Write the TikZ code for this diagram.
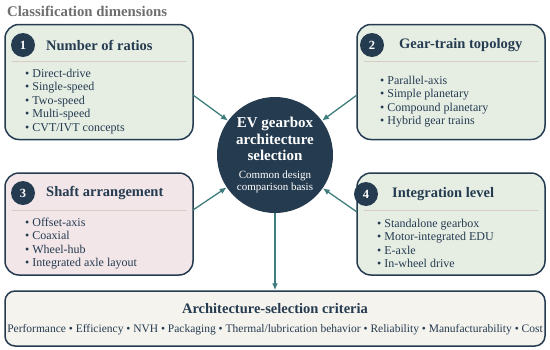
\documentclass[tikz,border=0pt]{standalone}
\usepackage{fontspec}
\setmainfont{Liberation Serif}
\usetikzlibrary{arrows.meta}
\definecolor{navy}{HTML}{253B50}
\definecolor{tealc}{HTML}{3E7D7C}
\definecolor{gfill}{HTML}{E6EEE4}
\definecolor{pfill}{HTML}{F2E6E8}
\definecolor{bfill}{HTML}{F5F3EE}
\definecolor{sepc}{HTML}{D9CCC4}
\definecolor{ttl}{HTML}{6E6E6E}
\tikzset{
  card/.style={draw=navy, line width=1.5pt, rounded corners=14pt, inner sep=0pt},
  numc/.style={circle, fill=navy, minimum size=24pt, inner sep=0pt, text=white, font=\fontsize{12.5}{12}\selectfont\bfseries},
  head/.style={anchor=west, text=navy, font=\fontsize{14.5}{14}\selectfont\bfseries, inner sep=0pt},
  items/.style={anchor=north west, text=navy, font=\fontsize{12}{13.6}\selectfont, align=left, inner sep=0pt},
  sepl/.style={draw=sepc, line width=1pt},
  arr/.style={draw=tealc, line width=1.3pt, -{Latex[length=7pt,width=6pt]}},
}
\begin{document}
\begin{tikzpicture}[x=1pt,y=-1pt]
\useasboundingbox (0,0) rectangle (550,349);
\node[anchor=west, text=ttl, font=\fontsize{14.8}{15}\selectfont\bfseries, inner sep=0pt] (title) at (7,11) {Classification dimensions};

% box 1
\node[card, fill=gfill, minimum width=188pt, minimum height=115pt] (b1) at (99,82) {};
\node[numc] (n1) at (23,45) {1};
\node[head] (h1) at (46,45) {Number of ratios};
\draw[sepl] (12,61) -- (187,61);
\node[items] (i1) at (25,68.5) {\textbullet\ Direct-drive\\\textbullet\ Single-speed\\\textbullet\ Two-speed\\\textbullet\ Multi-speed\\\textbullet\ CVT/IVT concepts};

% box 2
\node[card, fill=gfill, minimum width=188pt, minimum height=115pt] (b2) at (451,82) {};
\node[numc] (n2) at (372,45) {2};
\node[head] (h2) at (399,45) {Gear-train topology};
\draw[sepl] (364,61) -- (539,61);
\node[items] (i2) at (380,75.5) {\textbullet\ Parallel-axis\\\textbullet\ Simple planetary\\\textbullet\ Compound planetary\\\textbullet\ Hybrid gear trains};

% box 3
\node[card, fill=pfill, minimum width=188pt, minimum height=102pt] (b3) at (99,224) {};
\node[numc] (n3) at (23,193) {3};
\node[head] (h3) at (46,193) {Shaft arrangement};
\draw[sepl] (12,210) -- (187,210);
\node[items] (i3) at (25,217.5) {\textbullet\ Offset-axis\\\textbullet\ Coaxial\\\textbullet\ Wheel-hub\\\textbullet\ Integrated axle layout};

% box 4
\node[card, fill=gfill, minimum width=188pt, minimum height=102pt] (b4) at (451,224) {};
\node[numc] (n4) at (366,194) {4};
\node[head] (h4) at (392,194) {Integration level};
\draw[sepl] (364,210) -- (539,210);
\node[items] (i4) at (377,218.5) {\textbullet\ Standalone gearbox\\\textbullet\ Motor-integrated EDU\\\textbullet\ E-axle\\\textbullet\ In-wheel drive};

% hub
\node[circle, fill=navy, minimum size=116pt, inner sep=0pt] (hub) at (275,155) {};
\node[text=white, font=\fontsize{15}{16.5}\selectfont\bfseries, align=center, inner sep=0pt] (ht) at (275,139) {EV gearbox\\architecture\\selection};
\node[text=white, font=\fontsize{11}{11.5}\selectfont, align=center, inner sep=0pt] (hs) at (275,182) {Common design\\comparison basis};

% bottom
\node[card, fill=bfill, rounded corners=10pt, minimum width=540pt, minimum height=55pt] (bt) at (275,318.5) {};
\node[text=navy, font=\fontsize{14.5}{14}\selectfont\bfseries, inner sep=0pt] (btt) at (275,309) {Architecture-selection criteria};
\node[text=navy, font=\fontsize{11.5}{12}\selectfont, inner sep=0pt] (btc) at (275,330) {Performance \textbullet\ Efficiency \textbullet\ NVH \textbullet\ Packaging \textbullet\ Thermal/lubrication behavior \textbullet\ Reliability \textbullet\ Manufacturability \textbullet\ Cost};

% arrows
\coordinate (s1) at (193,95);
\coordinate (s2) at (357,95);
\coordinate (s3) at (193,210);
\coordinate (s4) at (357,212);
\draw[arr] (s1) -- (hub);
\draw[arr] (s2) -- (hub);
\draw[arr] (s3) -- (hub);
\draw[arr] (s4) -- (hub);
\draw[arr] (hub) -- (bt);
\end{tikzpicture}
\end{document}
